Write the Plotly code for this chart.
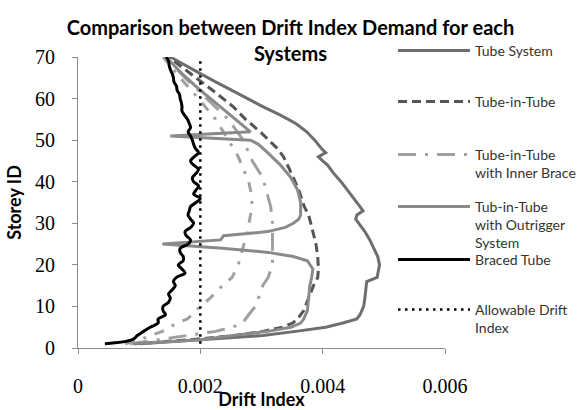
import plotly.graph_objects as go

# ---------------- data (Storey ID vs Drift Index) ----------------
tube_storey = [1, 2, 3, 4, 5, 6, 7, 8, 10, 12, 14, 16, 17, 18, 20, 22, 24, 26, 28, 30, 31, 32, 33, 34,
               36, 38, 40, 42, 44, 45, 46, 47, 48, 50, 52, 54, 56, 58, 60, 62, 64, 66, 68, 70]
tube_drift = [0.00102, 0.00200, 0.00302, 0.00356, 0.00405, 0.00433, 0.00456, 0.00461, 0.00467, 0.00469,
              0.00470, 0.00472, 0.00489, 0.00490, 0.00493, 0.00490, 0.00484, 0.00477, 0.00469, 0.00459,
              0.00454, 0.00456, 0.00466, 0.00461, 0.00451, 0.00441, 0.00430, 0.00418, 0.00408, 0.00400,
              0.00393, 0.00405, 0.00398, 0.00387, 0.00374, 0.00356, 0.00331, 0.00303, 0.00277, 0.00249,
              0.00225, 0.00200, 0.00175, 0.00151]

tit_storey = [1, 2, 3, 4, 5, 6, 7, 9, 12, 15, 17, 19, 22, 25, 28, 32, 34, 38, 42, 46, 48, 52, 55, 58,
              62, 66, 70]
tit_drift = [0.00093, 0.00184, 0.00257, 0.00302, 0.00334, 0.00351, 0.00359, 0.00369, 0.00377, 0.00385,
             0.00392, 0.00393, 0.00392, 0.00389, 0.00384, 0.00377, 0.00370, 0.00361, 0.00349, 0.00336,
             0.00326, 0.00298, 0.00274, 0.00254, 0.00220, 0.00184, 0.00148]

brace_storey = [1, 2, 3, 4, 5, 6, 8, 10, 12, 15, 17, 20, 25, 30, 34, 38, 41, 45, 50, 55, 60, 65, 70]
brace_drift = [0.00085, 0.00134, 0.00184, 0.00225, 0.00252, 0.00269, 0.00279, 0.00290, 0.00295, 0.00302,
               0.00311, 0.00318, 0.00318, 0.00318, 0.00315, 0.00308, 0.00302, 0.00285, 0.00270, 0.00246,
               0.00211, 0.00175, 0.00143]

brace2_storey = [1, 2, 3, 4, 6, 7, 10, 12, 15, 17, 20, 24, 28, 32, 36, 40, 43, 46, 50, 55, 60, 65, 70]
brace2_drift = [0.00077, 0.00102, 0.00118, 0.00138, 0.00162, 0.00179, 0.00200, 0.00216, 0.00236, 0.00252,
                0.00262, 0.00270, 0.00277, 0.00282, 0.00285, 0.00279, 0.00270, 0.00262, 0.00246, 0.00225,
                0.00197, 0.00167, 0.00139]

outr_storey = [1, 2, 3, 4, 5, 6, 7, 9, 12, 15, 17, 19, 21, 22, 23, 24, 25, 26, 27, 28, 29, 30, 31, 32,
               35, 38, 41, 44, 47, 49, 50, 51, 52, 53, 55, 58, 62, 66, 70]
outr_drift = [0.00090, 0.00200, 0.00254, 0.00310, 0.00348, 0.00364, 0.00369, 0.00375, 0.00377, 0.00379,
              0.00382, 0.00384, 0.00375, 0.00352, 0.00311, 0.00236, 0.00138, 0.00233, 0.00238, 0.00310,
              0.00339, 0.00352, 0.00361, 0.00364, 0.00364, 0.00359, 0.00348, 0.00331, 0.00310, 0.00295,
              0.00282, 0.00151, 0.00282, 0.00274, 0.00257, 0.00233, 0.00200, 0.00170, 0.00144]

braced_storey = list(range(1, 71))
braced_drift = [0.00044, 0.00089, 0.00097, 0.00107, 0.00118, 0.00131, 0.00131, 0.00143, 0.00139, 0.00139,
                0.00148, 0.00151, 0.00148, 0.00154, 0.00159, 0.00156, 0.00161, 0.00175, 0.00170, 0.00164,
                0.00172, 0.00172, 0.00167, 0.00167, 0.00180, 0.00184, 0.00177, 0.00175, 0.00184, 0.00189,
                0.00184, 0.00180, 0.00182, 0.00184, 0.00193, 0.00200, 0.00189, 0.00193, 0.00197, 0.00189,
                0.00187, 0.00193, 0.00197, 0.00189, 0.00184, 0.00190, 0.00197, 0.00192, 0.00189, 0.00187,
                0.00184, 0.00180, 0.00184, 0.00182, 0.00179, 0.00174, 0.00170, 0.00170, 0.00169, 0.00167,
                0.00166, 0.00162, 0.00161, 0.00157, 0.00156, 0.00154, 0.00151, 0.00149, 0.00148, 0.00144]

allow_storey = [1, 70]
allow_drift = [0.002, 0.002]

x_ticks = [0, 0.002, 0.004, 0.006]
x_ticktext = ["0", "0.002", "0.004", "0.006"]
y_ticks = [0, 10, 20, 30, 40, 50, 60, 70]

names = ["Tube System", "Tube-in-Tube", "Tube-in-Tube<br>with Inner Brace",
         "Tub-in-Tube<br>with Outrigger<br>System", "Braced Tube", "Allowable Drift<br>Index"]

# ---------------- figure ----------------
fig = go.Figure()
fig.add_trace(go.Scatter(x=tube_drift, y=tube_storey, mode="lines", name=names[0], legend="legend",
                         line=dict(color="#6e6e6e", width=3)))
fig.add_trace(go.Scatter(x=tit_drift, y=tit_storey, mode="lines", name=names[1], legend="legend2",
                         line=dict(color="#555555", width=3, dash="9px,5px")))
fig.add_trace(go.Scatter(x=brace_drift, y=brace_storey, mode="lines", name=names[2], legend="legend3",
                         line=dict(color="#a0a0a0", width=3, dash="18px,9px,3px,9px")))
fig.add_trace(go.Scatter(x=brace2_drift, y=brace2_storey, mode="lines", showlegend=False,
                         line=dict(color="#a0a0a0", width=3, dash="10px,9px,3px,9px")))
fig.add_trace(go.Scatter(x=outr_drift, y=outr_storey, mode="lines", name=names[3], legend="legend4",
                         line=dict(color="#8a8a8a", width=3)))
fig.add_trace(go.Scatter(x=braced_drift, y=braced_storey, mode="lines", name=names[4], legend="legend5",
                         line=dict(color="#000000", width=3, shape="spline")))
fig.add_trace(go.Scatter(x=allow_drift, y=allow_storey, mode="lines", name=names[5], legend="legend6",
                         line=dict(color="#000000", width=2.5, dash="2.5px,4.5px")))

tick_font = dict(family="Liberation Serif", size=20, color="#000000")
title_font = dict(family="Lato", size=18, color="#000000", weight="bold")
leg_font = dict(family="Lato", size=14, color="#333333")

fig.update_layout(
    width=581, height=410,
    margin=dict(l=78, r=136, t=57, b=62, autoexpand=False),
    paper_bgcolor="white", plot_bgcolor="white",
    title=dict(text="Comparison between Drift Index Demand for each<br>Systems",
               x=0.5, xanchor="center", y=0.915, yanchor="top", yref="container",
               font=dict(family="Lato", size=20, color="#000000", weight="bold")),
    xaxis=dict(range=[0, 0.006], tickvals=x_ticks, ticktext=x_ticktext, showline=True,
               linecolor="#8c8c8c", linewidth=1, ticks="outside", ticklen=5, tickcolor="#8c8c8c",
               showgrid=False, zeroline=False, tickfont=tick_font, automargin=False,
               ticklabelstandoff=15,
               title=dict(text="Drift Index", font=title_font, standoff=15)),
    yaxis=dict(range=[0, 70], tickvals=y_ticks, showline=True,
               linecolor="#8c8c8c", linewidth=1, ticks="outside", ticklen=5, tickcolor="#8c8c8c",
               showgrid=False, zeroline=False, tickfont=tick_font, automargin=False,
               ticklabelstandoff=13,
               title=dict(text="Storey ID", font=title_font, standoff=8)),
)

leg_y = [51, 102, 155, 207, 260, 310]
keys = ["legend", "legend2", "legend3", "legend4", "legend5", "legend6"]
for k, yy in zip(keys, leg_y):
    fig.update_layout({k: dict(x=(393 - 78) / 367, y=(348 - (yy - 16)) / 291, xanchor="left",
                               yanchor="top", bgcolor="rgba(0,0,0,0)", font=leg_font,
                               valign="top", itemwidth=72, borderwidth=0)})

fig.write_html("out.html", config={"displayModeBar": False},
               post_script="document.body.style.margin='0px';")
